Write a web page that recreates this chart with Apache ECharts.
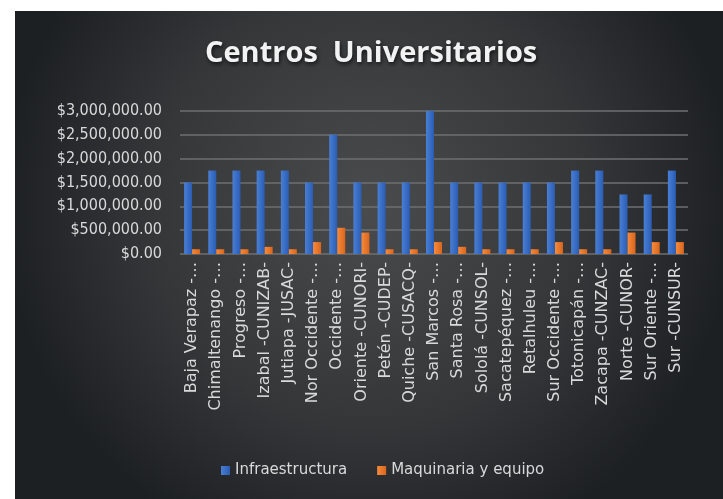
<!DOCTYPE html>
<html>
<head>
<meta charset="utf-8">
<script src="https://cdn.jsdelivr.net/npm/echarts@6/dist/echarts.min.js"></script>
<style>
  html, body { margin: 0; padding: 0; background: #ffffff; }
  #chart { width: 723px; height: 499px; }
</style>
</head>
<body>
<div id="chart"></div>
<script>
// categorias (etiquetas truncadas como en el original)
const centros = [
  "Baja Verapaz -…", "Chimaltenango -…", "Progreso -…", "Izabal -CUNIZAB-",
  "Jutiapa -JUSAC-", "Nor Occidente -…", "Occidente -…", "Oriente -CUNORI-",
  "Petén -CUDEP-", "Quiche -CUSACQ-", "San Marcos -…", "Santa Rosa -…",
  "Sololá -CUNSOL-", "Sacatepéquez -…", "Retalhuleu -…", "Sur Occidente -…",
  "Totonicapán -…", "Zacapa -CUNZAC-", "Norte -CUNOR-", "Sur Oriente -…",
  "Sur -CUNSUR-"
];
const infraestructura = [
  1500000, 1750000, 1750000, 1750000, 1750000, 1500000, 2500000, 1500000,
  1500000, 1500000, 3000000, 1500000, 1500000, 1500000, 1500000, 1500000,
  1750000, 1750000, 1250000, 1250000, 1750000
];
const maquinaria = [
  100000, 100000, 100000, 150000, 100000, 250000, 550000, 450000,
  100000, 100000, 250000, 150000, 100000, 100000, 100000, 250000,
  100000, 100000, 450000, 250000, 250000
];

const chart = echarts.init(document.getElementById("chart"));
const font = "'DejaVu Sans Condensed', 'DejaVu Sans', sans-serif";

function money(v) {
  return "$" + v.toLocaleString("en-US", { minimumFractionDigits: 2, maximumFractionDigits: 2 });
}

chart.setOption({
  animation: false,
  graphic: [{
    type: "rect",
    z: -10,
    silent: true,
    shape: { x: 15, y: 11, width: 708, height: 488 },
    style: {
      fill: new echarts.graphic.RadialGradient(0.5, 0.4, 0.75, [
        { offset: 0, color: "#4a4b4c" },
        { offset: 0.6, color: "#343638" },
        { offset: 1, color: "#1d2023" }
      ])
    }
  }],
  title: {
    text: "Centros  Universitarios",
    left: 200,
    top: 34,
    textStyle: {
      fontFamily: "Open Sans",
      fontWeight: "bold",
      fontSize: 29,
      color: "#f2f2f2",
      textShadowColor: "rgba(0,0,0,0.7)",
      textShadowBlur: 4,
      textShadowOffsetX: 1,
      textShadowOffsetY: 2
    }
  },
  legend: {
    bottom: 16,
    left: 216,
    itemWidth: 9,
    itemHeight: 9,
    itemGap: 30,
    icon: "rect",
    textStyle: { color: "#d9d9d9", fontSize: 15, fontFamily: "'DejaVu Sans', sans-serif" },
    data: ["Infraestructura", "Maquinaria y equipo"]
  },
  grid: { left: 180, right: 35, top: 111, bottom: 245 },
  xAxis: {
    type: "category",
    data: centros,
    axisLine: { show: false },
    axisTick: { show: false },
    axisLabel: {
      rotate: 90,
      interval: 0,
      margin: 8,
      color: "#d9d9d9",
      fontSize: 16,
      fontFamily: "'DejaVu Sans', sans-serif"
    }
  },
  yAxis: {
    type: "value",
    min: 0,
    max: 3000000,
    interval: 500000,
    axisLabel: {
      formatter: money,
      color: "#d9d9d9",
      fontSize: 16,
      margin: 18,
      fontFamily: font
    },
    splitLine: { lineStyle: { color: "#6e6f70", width: 1.5 } }
  },
  series: [
    {
      name: "Infraestructura",
      type: "bar",
      data: infraestructura,
      barWidth: 8,
      barGap: "0%",
      itemStyle: {
        color: new echarts.graphic.LinearGradient(0, 0, 1, 0, [
          { offset: 0, color: "#4a7fd6" },
          { offset: 1, color: "#2a5cb3" }
        ])
      }
    },
    {
      name: "Maquinaria y equipo",
      type: "bar",
      data: maquinaria,
      barWidth: 8,
      itemStyle: {
        color: new echarts.graphic.LinearGradient(0, 0, 1, 0, [
          { offset: 0, color: "#f58a3c" },
          { offset: 1, color: "#d9661d" }
        ])
      }
    }
  ]
});
</script>
</body>
</html>
